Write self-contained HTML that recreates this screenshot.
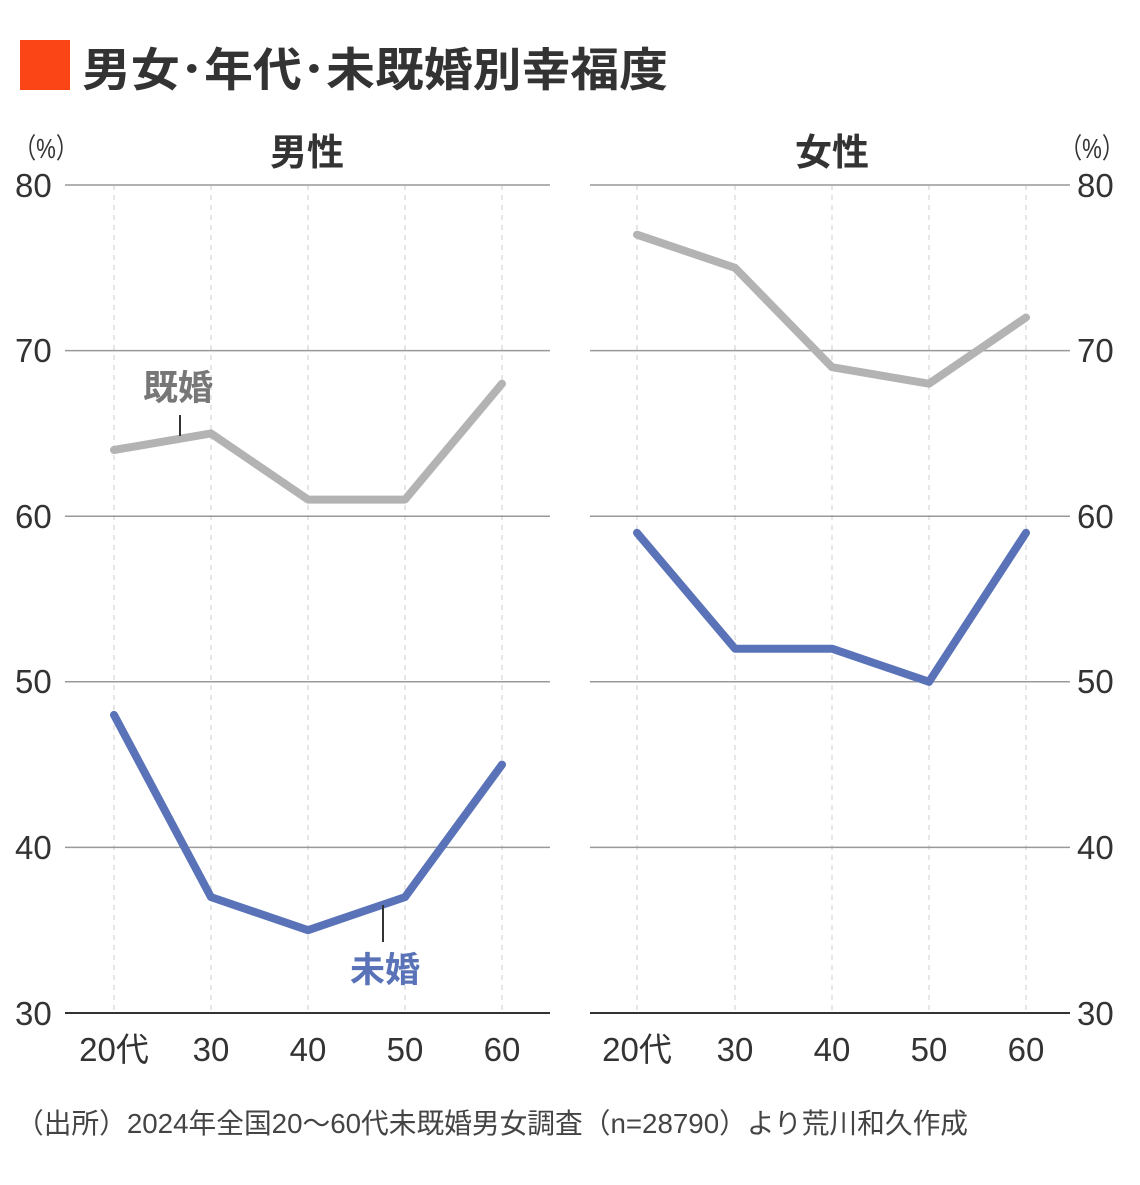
<!DOCTYPE html>
<html><head><meta charset="utf-8"><style>
body{margin:0;background:#fff;}
svg text{font-family:"Liberation Sans","Noto Sans CJK JP",sans-serif;}
</style></head><body>
<svg width="1140" height="1180" xmlns="http://www.w3.org/2000/svg">
<rect x="20" y="40" width="50" height="50" fill="#fc4516"/>
<text x="82" y="86" font-size="46" font-weight="bold" fill="#333" textLength="586" lengthAdjust="spacingAndGlyphs">男女･年代･未既婚別幸福度</text>
<text x="14" y="158" font-size="28" fill="#333" textLength="64" lengthAdjust="spacingAndGlyphs">（%）</text>
<text x="1060" y="158" font-size="28" fill="#333" textLength="64" lengthAdjust="spacingAndGlyphs">（%）</text>
<text x="307" y="165" font-size="37" font-weight="bold" fill="#333" text-anchor="middle">男性</text>
<text x="832" y="165" font-size="37" font-weight="bold" fill="#333" text-anchor="middle">女性</text>
<g stroke="#ddd" stroke-width="1.5" stroke-dasharray="5,5">
<line x1="114" y1="185" x2="114" y2="1013"/><line x1="211" y1="185" x2="211" y2="1013"/><line x1="308" y1="185" x2="308" y2="1013"/><line x1="405" y1="185" x2="405" y2="1013"/><line x1="502" y1="185" x2="502" y2="1013"/>
<line x1="637" y1="185" x2="637" y2="1013"/><line x1="735" y1="185" x2="735" y2="1013"/><line x1="832" y1="185" x2="832" y2="1013"/><line x1="929" y1="185" x2="929" y2="1013"/><line x1="1026" y1="185" x2="1026" y2="1013"/>
</g>
<g stroke="#999" stroke-width="1.5">
<line x1="65" y1="185" x2="550" y2="185"/><line x1="65" y1="350.6" x2="550" y2="350.6"/><line x1="65" y1="516.2" x2="550" y2="516.2"/><line x1="65" y1="681.8" x2="550" y2="681.8"/><line x1="65" y1="847.4" x2="550" y2="847.4"/>
<line x1="590" y1="185" x2="1070" y2="185"/><line x1="590" y1="350.6" x2="1070" y2="350.6"/><line x1="590" y1="516.2" x2="1070" y2="516.2"/><line x1="590" y1="681.8" x2="1070" y2="681.8"/><line x1="590" y1="847.4" x2="1070" y2="847.4"/>
</g>
<g stroke="#333" stroke-width="2"><line x1="65" y1="1013" x2="550" y2="1013"/><line x1="590" y1="1013" x2="1070" y2="1013"/></g>
<g font-size="33" fill="#333">
<text x="15" y="197">80</text><text x="15" y="362">70</text><text x="15" y="528">60</text><text x="15" y="693">50</text><text x="15" y="859">40</text><text x="15" y="1025">30</text>
<text x="1077" y="197">80</text><text x="1077" y="362">70</text><text x="1077" y="528">60</text><text x="1077" y="693">50</text><text x="1077" y="859">40</text><text x="1077" y="1025">30</text>
</g>
<g font-size="33" fill="#333" text-anchor="middle">
<text x="114" y="1061">20代</text><text x="211" y="1061">30</text><text x="308" y="1061">40</text><text x="405" y="1061">50</text><text x="502" y="1061">60</text>
<text x="637" y="1061">20代</text><text x="735" y="1061">30</text><text x="832" y="1061">40</text><text x="929" y="1061">50</text><text x="1026" y="1061">60</text>
</g>
<g fill="none" stroke-width="8" stroke-linejoin="round" stroke-linecap="round">
<polyline stroke="#b3b3b3" points="114,450 211,433.4 308,499.6 405,499.6 502,383.7"/>
<polyline stroke="#5a73b8" points="114,714.9 211,897.1 308,930.2 405,897.1 502,764.6"/>
<polyline stroke="#b3b3b3" points="637,234.7 735,267.8 832,367.2 929,383.7 1026,317.5"/>
<polyline stroke="#5a73b8" points="637,532.8 735,648.7 832,648.7 929,681.8 1026,532.8"/>
</g>
<line x1="180" y1="415" x2="180" y2="436" stroke="#333" stroke-width="2"/>
<line x1="383" y1="905" x2="383" y2="942" stroke="#333" stroke-width="2"/>
<text x="178" y="400" font-size="35" font-weight="bold" fill="#777" text-anchor="middle">既婚</text>
<text x="385" y="982" font-size="35" font-weight="bold" fill="#5a73b8" text-anchor="middle">未婚</text>
<text x="16" y="1133" font-size="28" fill="#444" textLength="952" lengthAdjust="spacingAndGlyphs">（出所）2024年全国20～60代未既婚男女調査（n=28790）より荒川和久作成</text>
</svg>
</body></html>
